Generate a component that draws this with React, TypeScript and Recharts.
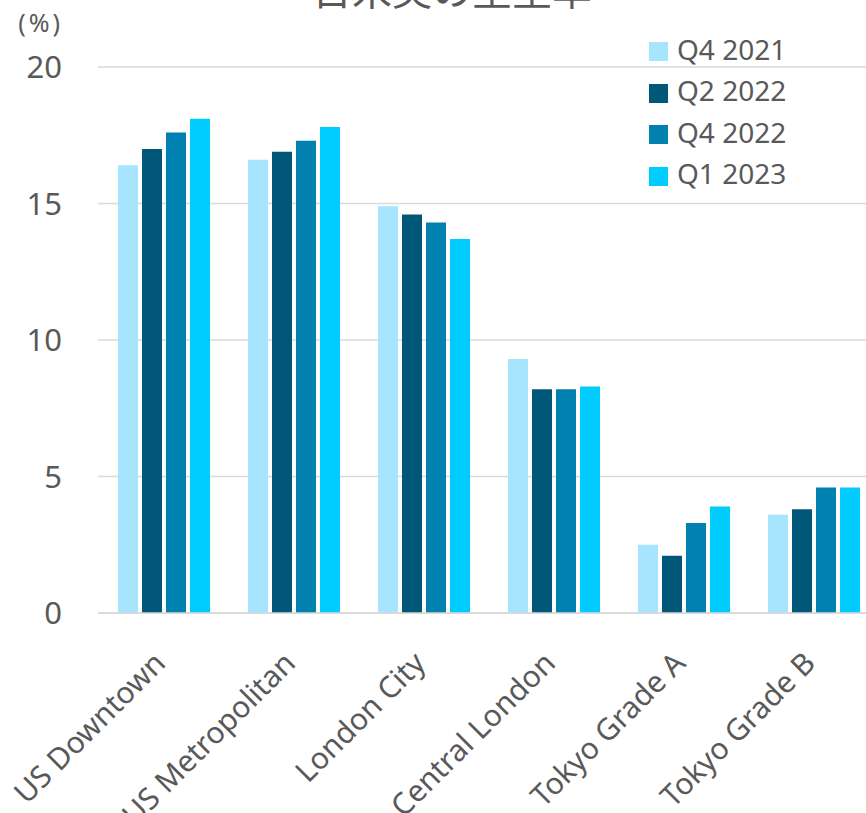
import React from "react";
import { BarChart, Bar, XAxis, YAxis, CartesianGrid, Legend } from "recharts";

const categories = ["US Downtown", "US Metropolitan", "London City", "Central London", "Tokyo Grade A", "Tokyo Grade B"];
const q4_2021 = [16.4, 16.6, 14.9, 9.3, 2.5, 3.6];
const q2_2022 = [17.0, 16.9, 14.6, 8.2, 2.1, 3.8];
const q4_2022 = [17.6, 17.3, 14.3, 8.2, 3.3, 4.6];
const q1_2023 = [18.1, 17.8, 13.7, 8.3, 3.9, 4.6];
const yTicks = [0, 5, 10, 15, 20];
const seriesNames = ["Q4 2021", "Q2 2022", "Q4 2022", "Q1 2023"];
const seriesColors = ["#A7E4FE", "#005777", "#0081AF", "#00CCFF"];
const title = "日米英の空室率";
const unitLabel = "(%)";

const data = categories.map((c, i) => ({
  name: c,
  s0: q4_2021[i],
  s1: q2_2022[i],
  s2: q4_2022[i],
  s3: q1_2023[i],
}));

const FONT = "'Noto Sans', 'Noto Sans CJK JP', sans-serif";
const TEXT = "#595959";

const XTick = (props: any) => {
  const { x, y, payload } = props;
  const tx = x + 4;
  const ty = y + 44;
  return (
    <text x={tx} y={ty} textAnchor="end" fill={TEXT} fontSize={30} fontFamily={FONT} transform={`rotate(-45, ${tx}, ${ty})`}>
      {payload.value}
    </text>
  );
};

const LegendContent = () => (
  <div style={{ fontFamily: FONT }}>
    {seriesNames.map((n, i) => (
      <div key={n} style={{ display: "flex", alignItems: "center", height: 41.5 }}>
        <div style={{ width: 19, height: 19, background: seriesColors[i], marginRight: 9, marginTop: 6 }} />
        <span style={{ fontSize: 28, color: TEXT, lineHeight: "30px" }}>{n}</span>
      </div>
    ))}
  </div>
);

export default function App() {
  return (
    <div style={{ position: "absolute", left: 0, top: 0, width: 866, height: 813, overflow: "hidden", background: "#fff" }}>
      <BarChart
        width={878}
        height={813}
        data={data}
        margin={{ top: 67, right: 0, bottom: 0, left: 0 }}
        barCategoryGap={20}
        barGap={4}
        style={{ fontFamily: FONT }}
      >
        <CartesianGrid vertical={false} stroke="#d9d9d9" strokeWidth={1.5} />
        <XAxis
          dataKey="name"
          interval={0}
          height={200}
          tick={<XTick />}
          tickLine={false}
          axisLine={{ stroke: "#d9d9d9", strokeWidth: 1.5 }}
        />
        <YAxis
          width={98}
          domain={[0, 20]}
          ticks={yTicks}
          tickSize={0}
          tickMargin={36}
          axisLine={false}
          tickLine={false}
          tick={{ fontSize: 31, fill: TEXT, fontFamily: FONT }}
        />
        <Legend
          layout="vertical"
          verticalAlign="middle"
          align="center"
          content={<LegendContent />}
          wrapperStyle={{ left: 649, top: 28, width: 200, right: "auto", bottom: "auto" }}
        />
        {["s0", "s1", "s2", "s3"].map((k, i) => (
          <Bar key={k} dataKey={k} name={seriesNames[i]} fill={seriesColors[i]} isAnimationActive={false} />
        ))}
      </BarChart>
      <svg width={866} height={813} style={{ position: "absolute", left: 0, top: 0, pointerEvents: "none" }}>
        <text x={452} y={5} textAnchor="middle" fontSize={40} fill={TEXT} fontFamily="'Noto Sans CJK JP', sans-serif">
          {title}
        </text>
        <text x={63} y={32} textAnchor="end" fontSize={25} letterSpacing={3} fill={TEXT} fontFamily={FONT}>
          {unitLabel}
        </text>
      </svg>
    </div>
  );
}
